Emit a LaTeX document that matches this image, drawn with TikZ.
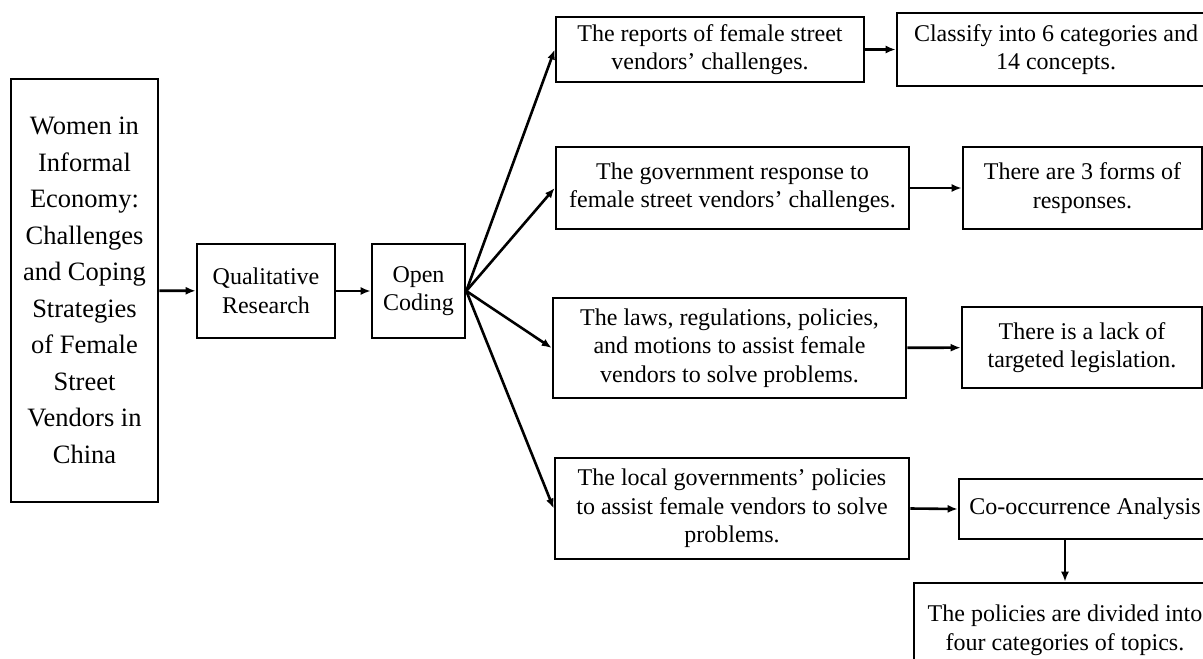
\documentclass[tikz,border=0pt]{standalone}
\usepackage{fontspec}
\setmainfont{Liberation Serif}
\usetikzlibrary{arrows.meta}
\begin{document}
\begin{tikzpicture}[x=1pt,y=-1pt,
  box/.style={draw, line width=2.6pt, inner sep=0pt, align=center,
    font=\fontsize{24}{28.5}\selectfont},
  bigbox/.style={draw, line width=2.6pt, inner sep=0pt, align=center,
    font=\fontsize{26.5}{36.5}\selectfont},
  arr/.style={line width=2.6pt, -{Latex[length=10pt,width=8pt]}}]
\clip (0,0) rectangle (1203,659);
\fill[white] (0,0) rectangle (1203,659);
\node[bigbox, minimum width=147pt, minimum height=423pt] (left) at (84.5,290.5)
  {Women in\\Informal\\Economy:\\Challenges\\and Coping\\Strategies\\of Female\\Street\\Vendors in\\China};
\node[box, minimum width=138pt, minimum height=94pt] (qual) at (266,291) {Qualitative\\Research};
\node[box, minimum width=93pt, minimum height=94pt] (open) at (418.5,291) {Open\\Coding};
\node[box, minimum width=308pt, minimum height=65pt] (b1) at (710,49.5) {The reports of female street\\vendors’ challenges.};
\node[box, minimum width=353pt, minimum height=82pt] (b2) at (732.5,188) {The government response to\\female street vendors’ challenges.};
\node[box, minimum width=353pt, minimum height=100pt] (b3) at (729.5,348) {The laws, regulations, policies,\\and motions to assist female\\vendors to solve problems.};
\node[box, minimum width=354pt, minimum height=101pt] (b4) at (732,508.5) {The local governments’ policies\\to assist female vendors to solve\\problems.};
\node[box, minimum width=318pt, minimum height=73pt] (c1) at (1056,49.5) {Classify into 6 categories and\\14 concepts.};
\node[box, minimum width=239pt, minimum height=82pt] (c2) at (1082.5,188) {There are 3 forms of\\responses.};
\node[box, minimum width=240pt, minimum height=81pt] (c3) at (1082,347.5) {There is a lack of\\targeted legislation.};
\node[box, minimum width=252pt, minimum height=60pt] (c4) at (1085,509) {Co-occurrence Analysis};
\node[box, minimum width=302pt, minimum height=95pt] (c5) at (1065,630.5) {The policies are divided into\\four categories of topics.};
\draw[arr] (left) -- (qual);
\draw[arr] (qual) -- (open);
\draw[arr] (open.east) -- (b1.west);
\draw[arr] (open.east) -- (b2.west);
\draw[arr] (open.east) -- (b3.west);
\draw[arr] (open.east) -- (b4.west);
\draw[arr] (b1) -- (c1);
\draw[arr] (b2) -- (c2);
\draw[arr] (b3) -- (c3);
\draw[arr] (b4.east) -- (c4.west);
\draw[arr] (c5.north |- c4.south) -- (c5.north);
\end{tikzpicture}
\end{document}
